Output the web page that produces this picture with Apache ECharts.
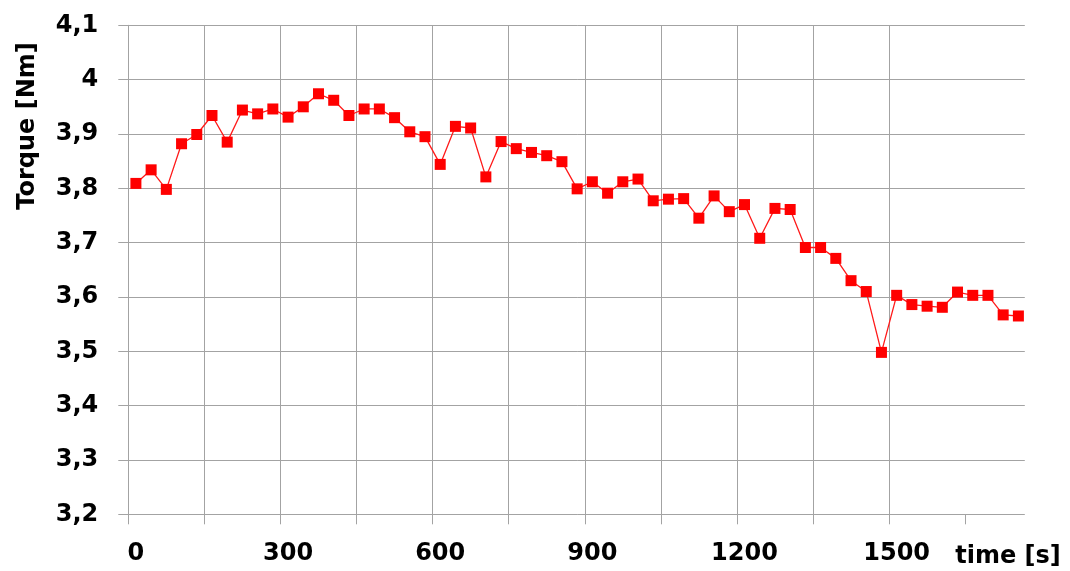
<!DOCTYPE html>
<html>
<head>
<meta charset="utf-8">
<script src="https://cdn.jsdelivr.net/npm/echarts@6/dist/echarts.min.js"></script>
<style>
html,body{margin:0;padding:0;background:#fff;}
#chart{width:1070px;height:571px;}
</style>
</head>
<body>
<div id="chart"></div>
<script>
// time in seconds (one sample every 30 s)
const times = [0,30,60,90,120,150,180,210,240,270,300,330,360,390,420,450,480,510,540,570,
  600,630,660,690,720,750,780,810,840,870,900,930,960,990,1020,1050,1080,1110,1140,1170,
  1200,1230,1260,1290,1320,1350,1380,1410,1440,1470,1500,1530,1560,1590,1620,1650,1680,1710,1740];
// torque in Nm
const torque = [3.809,3.834,3.798,3.882,3.899,3.934,3.885,3.944,3.937,3.946,
  3.931,3.950,3.974,3.962,3.934,3.946,3.946,3.930,3.904,3.895,
  3.844,3.914,3.911,3.821,3.886,3.873,3.866,3.860,3.849,3.799,
  3.812,3.791,3.812,3.817,3.777,3.780,3.781,3.745,3.786,3.757,
  3.770,3.708,3.763,3.761,3.691,3.691,3.671,3.630,3.610,3.498,
  3.603,3.586,3.583,3.581,3.609,3.603,3.603,3.567,3.565];
// x tick positions (gridlines) and labelled times
const xTicks = [-15,135,285,435,585,735,885,1035,1185,1335,1485,1635];
const xLabels = [0,300,600,900,1200,1500];
const yTicks = [3.2,3.3,3.4,3.5,3.6,3.7,3.8,3.9,4.0,4.1];

const gridColor = '#a3a3a3';
const font = 'DejaVu Sans';

const chart = echarts.init(document.getElementById('chart'), null, {renderer:'canvas'});
chart.setOption({
  animation: false,
  backgroundColor: '#ffffff',
  grid: {left: 128.3, right: 44, top: 25.3, bottom: 56.7, containLabel: false},
  xAxis: {
    type: 'value',
    min: -15,
    max: 1755,
    axisLine: {show: true, onZero: false, lineStyle: {color: gridColor, width: 1}},
    axisTick: {show: true, length: 10, customValues: xTicks, lineStyle: {color: gridColor, width: 1}},
    axisLabel: {customValues: xLabels, margin: 27, fontFamily: font, fontWeight: 'bold', fontSize: 24, color: '#000',
      formatter: v => String(v)},
    splitLine: {show: true, showMinLine: false, showMaxLine: false, lineStyle: {color: gridColor, width: 1}}
  },
  yAxis: {
    type: 'value',
    min: 3.2,
    max: 4.1,
    interval: 0.1,
    axisLine: {show: true, onZero: false, lineStyle: {color: gridColor, width: 1}},
    axisTick: {show: true, length: 10, customValues: yTicks, lineStyle: {color: gridColor, width: 1}},
    axisLabel: {customValues: yTicks, margin: 30, fontFamily: font, fontWeight: 'bold', fontSize: 24, color: '#000',
      formatter: v => String(Math.round(v * 10) / 10).replace('.', ',')},
    splitLine: {show: true, showMinLine: false, lineStyle: {color: gridColor, width: 1}}
  },
  graphic: [
    // the reference plot has no vertical border on its right edge
    {type: 'rect', right: 43, top: 24.5, z: 1,
      shape: {width: 2.2, height: 502}, style: {fill: '#ffffff'}},
    {type: 'text', rotation: Math.PI / 2, x: 28, y: 126,
      style: {text: 'Torque [Nm]', font: 'bold 24px "DejaVu Sans"', fill: '#000', textAlign: 'center', textVerticalAlign: 'middle'}},
    {type: 'text', x: 1008, y: 557,
      style: {text: 'time [s]', font: 'bold 24px "DejaVu Sans"', fill: '#000', textAlign: 'center', textVerticalAlign: 'middle'}}
  ],
  series: [{
    type: 'line',
    data: times.map((t, i) => [t, torque[i]]),
    symbol: 'rect',
    symbolSize: 11,
    itemStyle: {color: '#ff0000'},
    lineStyle: {color: '#ff1a1a', width: 1.3},
    z: 3
  }]
});
</script>
</body>
</html>
